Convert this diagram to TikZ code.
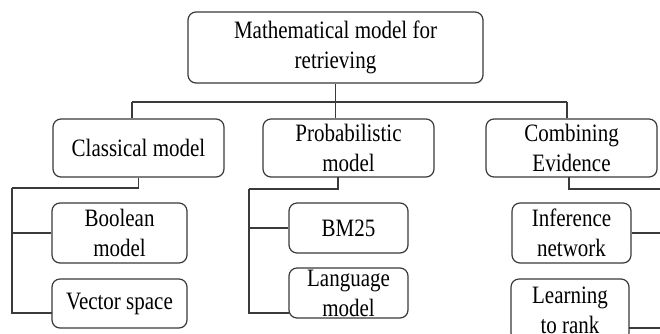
\documentclass[tikz,border=0pt]{standalone}
\usepackage{fontspec}
\setmainfont[FakeStretch=0.84]{Liberation Serif}
\definecolor{linec}{HTML}{3A3A3A}
\begin{document}
\begin{tikzpicture}[x=1pt,y=-1pt,
  box/.style={draw=linec, line width=1.2pt, rounded corners=8pt, inner sep=0pt,
    align=center, font=\fontsize{25}{30}\selectfont, text=black},
  link/.style={draw=linec, line width=1.2pt}]
\useasboundingbox (0,0) rectangle (660,333);
\clip (0,0) rectangle (660,333);
\fill[white] (0,0) rectangle (660,333);

% root
\node[box, minimum width=295pt, minimum height=71pt] (root) at (335.5,47.5) {Mathematical model for\\retrieving};

% first level
\node[box, minimum width=171pt, minimum height=58pt] (classical) at (138.5,148) {Classical model};
\node[box, minimum width=171pt, minimum height=58pt] (prob) at (348.5,148) {Probabilistic\\model};
\node[box, minimum width=171pt, minimum height=58pt] (comb) at (571.5,148) {Combining\\Evidence};

% second level
\node[box, minimum width=135pt, minimum height=60pt] (boolean) at (119.5,233) {Boolean\\model};
\node[box, minimum width=135pt, minimum height=49pt] (vector) at (119.5,303.5) {Vector space};
\node[box, minimum width=119pt, minimum height=50pt] (bm25) at (348.5,228) {BM25};
\node[box, minimum width=119pt, minimum height=50pt] (lang) at (348.5,293) {Language\\model};
\node[box, minimum width=119pt, minimum height=60pt] (infer) at (571.5,233) {Inference\\network};
\node[box, minimum width=118pt, minimum height=62pt] (learn) at (570,310) {Learning\\to rank};

% bus below the root
\coordinate (busL) at (132,102);
\coordinate (busR) at (567,102);
\draw[link] (root.south) -- (root.south |- busL);
\draw[link] (busL) -- (busR);
\draw[link] (busL) -- (busL |- classical.north);
\draw[link] (root.south |- busL) -- (root.south |- prob.north);
\draw[link] (busR) -- (busR |- comb.north);

% classical model branch
\coordinate (cL) at (12,188);
\coordinate (cV) at (52,313);
\draw[link] (classical.south) |- (cL);
\draw[link] (cL) |- (cV);
\draw[link] (cL |- boolean.west) -- (boolean.west);

% probabilistic model branch
\coordinate (pS) at (338,177);
\coordinate (pL) at (249,189);
\coordinate (pV) at (289,313);
\draw[link] (pS) |- (pL);
\draw[link] (pL) |- (pV);
\draw[link] (pL |- bm25.west) -- (bm25.west);

% combining evidence branch
\coordinate (eS) at (569,177);
\coordinate (eR) at (672,189);
\coordinate (lR) at (629,328);
\draw[link] (eS) |- (eR);
\draw[link] (infer.east) -- (infer.east -| eR);
\draw[link] (lR) -- (lR -| eR);
\end{tikzpicture}
\end{document}
